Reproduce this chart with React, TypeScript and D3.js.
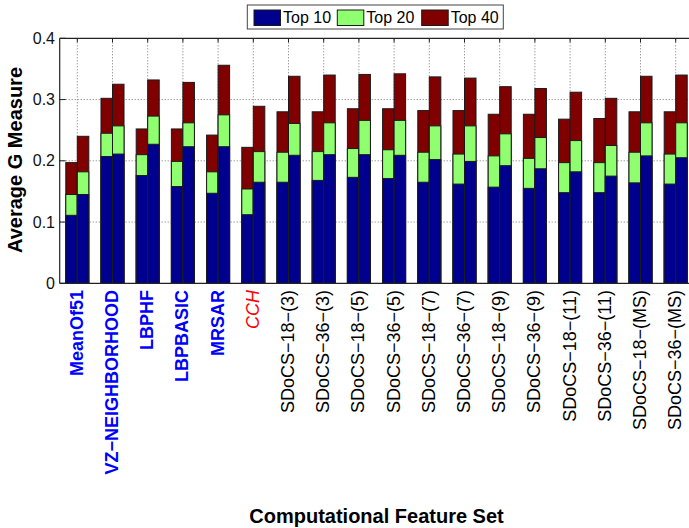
import React from "react";
import * as d3 from "d3";

const categories = [
  "MeanOf51", "VZ−NEIGHBORHOOD", "LBPHF", "LBPBASIC", "MRSAR", "CCH",
  "SDoCS−18−(3)", "SDoCS−36−(3)", "SDoCS−18−(5)", "SDoCS−36−(5)",
  "SDoCS−18−(7)", "SDoCS−36−(7)", "SDoCS−18−(9)", "SDoCS−36−(9)",
  "SDoCS−18−(11)", "SDoCS−36−(11)", "SDoCS−18−(MS)", "SDoCS−36−(MS)",
];
const labelKind = ["b", "b", "b", "b", "b", "r", "n", "n", "n", "n", "n", "n", "n", "n", "n", "n", "n", "n"];

const leftTop10 = [0.111, 0.207, 0.176, 0.158, 0.147, 0.112, 0.165, 0.168, 0.173, 0.171, 0.165, 0.162, 0.157, 0.155, 0.148, 0.148, 0.164, 0.162];
const leftTop20 = [0.145, 0.245, 0.210, 0.199, 0.182, 0.154, 0.214, 0.215, 0.220, 0.218, 0.214, 0.211, 0.208, 0.204, 0.197, 0.197, 0.214, 0.211];
const leftTop40 = [0.197, 0.302, 0.252, 0.252, 0.242, 0.222, 0.280, 0.280, 0.285, 0.285, 0.282, 0.282, 0.276, 0.276, 0.268, 0.269, 0.280, 0.280];
const rightTop10 = [0.145, 0.211, 0.227, 0.223, 0.223, 0.165, 0.209, 0.210, 0.210, 0.209, 0.202, 0.199, 0.192, 0.187, 0.182, 0.175, 0.208, 0.205];
const rightTop20 = [0.182, 0.257, 0.273, 0.262, 0.275, 0.215, 0.261, 0.262, 0.266, 0.266, 0.257, 0.257, 0.244, 0.238, 0.233, 0.225, 0.262, 0.262];
const rightTop40 = [0.240, 0.325, 0.332, 0.328, 0.356, 0.289, 0.338, 0.340, 0.341, 0.342, 0.337, 0.335, 0.321, 0.318, 0.312, 0.302, 0.338, 0.340];

const seriesNames = ["Top 10", "Top 20", "Top 40"];
const seriesColors = ["#00008F", "#8FFF70", "#800000"];
const yTicks = [0, 0.1, 0.2, 0.3, 0.4];

const W = 689, H = 528;
const FONT = "'Liberation Sans', Arial, Helvetica, sans-serif";

export default function App() {
  const x = d3.scaleLinear().domain([0.5, 18.5]).range([59.7, 693.3]);
  const y = d3.scaleLinear().domain([0, 0.4]).range([283.3, 38.3]);
  const half = 0.327;

  const bars: JSX.Element[] = [];
  categories.forEach((c, i) => {
    const cx = i + 1;
    const sides = [
      { x0: cx - half, x1: cx, vals: [leftTop10[i], leftTop20[i], leftTop40[i]] },
      { x0: cx, x1: cx + half, vals: [rightTop10[i], rightTop20[i], rightTop40[i]] },
    ];
    sides.forEach((s, si) => {
      for (let k = 2; k >= 0; k--) {
        bars.push(
          <rect
            key={`b${i}-${si}-${k}`}
            x={x(s.x0)}
            y={y(s.vals[k])}
            width={x(s.x1) - x(s.x0)}
            height={y(0) - y(s.vals[k])}
            fill={seriesColors[k]}
            stroke="#1a1a1a"
            strokeWidth={1}
          />
        );
      }
    });
  });

  const legendX = [254, 337.3, 421.7];
  return (
    <svg width={W} height={H} style={{ position: "absolute", left: 0, top: 0, background: "#fff" }} fontFamily={FONT}>
      {/* grid */}
      {yTicks.slice(1, 4).map((t) => (
        <line key={`gy${t}`} x1={x(0.5)} x2={x(18.5)} y1={y(t)} y2={y(t)} stroke="#777" strokeWidth={1} strokeDasharray="1,2" />
      ))}
      {categories.map((c, i) => (
        <line key={`gx${i}`} x1={x(i + 1)} x2={x(i + 1)} y1={y(0)} y2={y(0.4)} stroke="#777" strokeWidth={1} strokeDasharray="1,2" />
      ))}
      {bars}
      {/* axes box */}
      <line x1={x(0.5)} x2={x(18.5)} y1={y(0)} y2={y(0)} stroke="#222" strokeWidth={1.2} />
      <line x1={x(0.5)} x2={x(18.5)} y1={y(0.4)} y2={y(0.4)} stroke="#222" strokeWidth={1.2} />
      <line x1={x(0.5)} x2={x(0.5)} y1={y(0)} y2={y(0.4)} stroke="#222" strokeWidth={1.2} />
      {yTicks.map((t) => (
        <g key={`yt${t}`}>
          <line x1={x(0.5)} x2={x(0.5) + 6} y1={y(t)} y2={y(t)} stroke="#222" />
          <text x={55} y={y(t)} textAnchor="end" dominantBaseline="central" fontSize={16} fill="#111">
            {t === 0 ? "0" : t.toFixed(1)}
          </text>
        </g>
      ))}
      {categories.map((c, i) => (
        <g key={`xt${i}`}>
          <line x1={x(i + 1)} x2={x(i + 1)} y1={y(0)} y2={y(0) - 4} stroke="#222" />
          <line x1={x(i + 1)} x2={x(i + 1)} y1={y(0.4)} y2={y(0.4) + 4} stroke="#222" />
          <text
            transform={`translate(${x(i + 1) - 0.5},290) rotate(-90)`}
            textAnchor="end"
            dominantBaseline="central"
            fontSize={18}
            fontWeight={labelKind[i] === "b" ? "bold" : "normal"}
            fontStyle={labelKind[i] === "r" ? "italic" : "normal"}
            fill={labelKind[i] === "b" ? "#0000FF" : labelKind[i] === "r" ? "#FF0000" : "#000"}
          >
            {c}
          </text>
        </g>
      ))}
      {/* axis titles */}
      <text transform={`translate(15,160) rotate(-90)`} textAnchor="middle" dominantBaseline="central" fontSize={20} fontWeight="bold" fill="#000">
        Average G Measure
      </text>
      <text x={376.5} y={522.5} textAnchor="middle" fontSize={20} fontWeight="bold" fill="#000">
        Computational Feature Set
      </text>
      {/* legend */}
      <rect x={247.3} y={5} width={256} height={24} fill="#fff" stroke="#444" strokeWidth={1} />
      {seriesNames.map((n, k) => (
        <g key={`lg${k}`}>
          <rect x={legendX[k]} y={10} width={26.5} height={15.5} fill={seriesColors[k]} stroke="#1a1a1a" />
          <text x={legendX[k] + 29} y={17.8} dominantBaseline="central" fontSize={16} fill="#000">
            {n}
          </text>
        </g>
      ))}
    </svg>
  );
}
